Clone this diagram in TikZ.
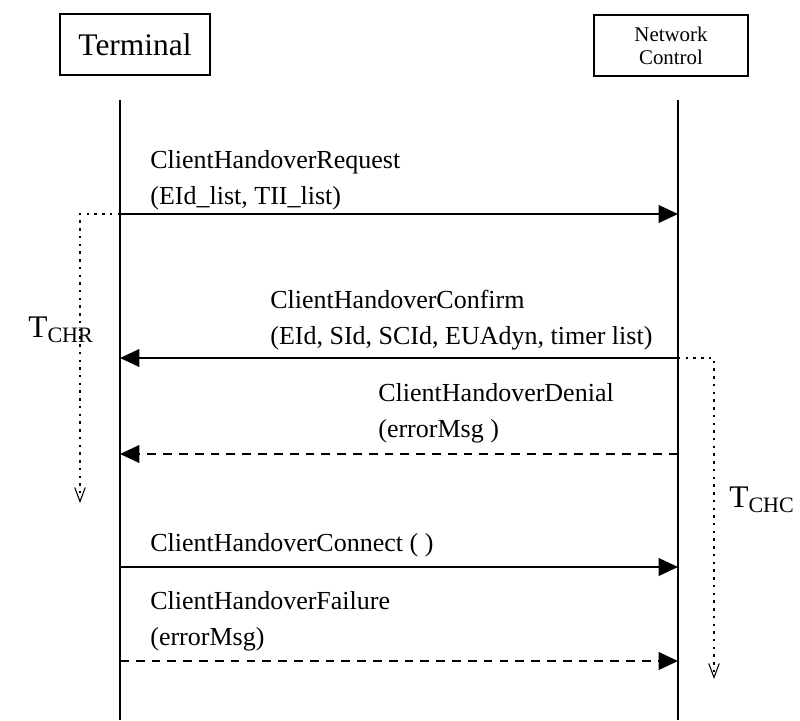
\documentclass[tikz,border=0pt]{standalone}
\usepackage{fontspec}
\setmainfont{Liberation Serif}
\usetikzlibrary{arrows.meta}

\begin{document}
\begin{tikzpicture}[x=0.02cm,y=-0.02cm,
		party/.style={draw,line width=1.1pt,inner sep=0pt},
		msg/.style={anchor=south west,align=left,inner sep=0pt,font=\fontsize{14.8}{20}\selectfont},
		lifeline/.style={line width=1.1pt},
		call/.style={line width=1.1pt,-{Triangle[length=11pt,width=10pt]}},
		reply/.style={call,dash pattern=on 5pt off 4pt},
		timer/.style={line width=1.4pt,dash pattern=on 1.4pt off 3pt,
			-{Straight Barb[length=8pt,width=6pt,line width=0.6pt]}}]
		\useasboundingbox (0,0) rectangle (800,720);
		% the two parties
		\node[party,minimum width=3cm,minimum height=1.22cm,font=\fontsize{17.9}{20}\selectfont] (term) at (135,44.5) {Terminal};
		\node[party,minimum width=3.08cm,minimum height=1.22cm,align=center,font=\fontsize{11.9}{13}\selectfont] (net) at (671,45.5) {Network\\Control};
		\coordinate (termtop) at (120,100);
		\coordinate (termbot) at (120,720);
		\coordinate (nettop) at (678,100);
		\coordinate (netbot) at (678,720);
		\draw[lifeline] (termtop) -- (termbot);
		\draw[lifeline] (nettop) -- (netbot);
		% message ends on the lifelines
		\coordinate (treq) at (120,214);  \coordinate (nreq) at (678,214);
		\coordinate (tcnf) at (120,358);  \coordinate (ncnf) at (678,358);
		\coordinate (tden) at (120,454);  \coordinate (nden) at (678,454);
		\coordinate (tcon) at (120,567);  \coordinate (ncon) at (678,567);
		\coordinate (tfail) at (120,661); \coordinate (nfail) at (678,661);
		% messages
		\draw[call] (treq) -- (nreq);
		\node[msg] (reqtxt) at (150,210) {ClientHandoverRequest\\(EId\_list, TII\_list)};
		\draw[call] (ncnf) -- (tcnf);
		\node[msg] (cnftxt) at (270,350) {ClientHandoverConfirm\\(EId, SId, SCId, EUAdyn, timer list)};
		\draw[reply] (nden) -- (tden);
		\node[msg] (dentxt) at (378,443) {ClientHandoverDenial\\(errorMsg )};
		\draw[call] (tcon) -- (ncon);
		\node[msg] (context) at (150,557) {ClientHandoverConnect ( )};
		\draw[reply] (tfail) -- (nfail);
		\node[msg] (failtxt) at (150,651) {ClientHandoverFailure\\(errorMsg)};
		% timers
		\coordinate (chrcorner) at (80,214);
		\coordinate (chrend) at (80,503);
		\coordinate (chccorner) at (714,358);
		\coordinate (chcend) at (714,679);
		\draw[timer] (treq) -- (chrcorner) -- (chrend);
		\draw[timer] (ncnf) -- (chccorner) -- (chcend);
		\node[font=\fontsize{17.9}{20}\selectfont] (chr) at (61,330) {T\textsubscript{CHR}};
		\node[font=\fontsize{17.9}{20}\selectfont] (chc) at (762,500) {T\textsubscript{CHC}};
	\end{tikzpicture}
\end{document}
